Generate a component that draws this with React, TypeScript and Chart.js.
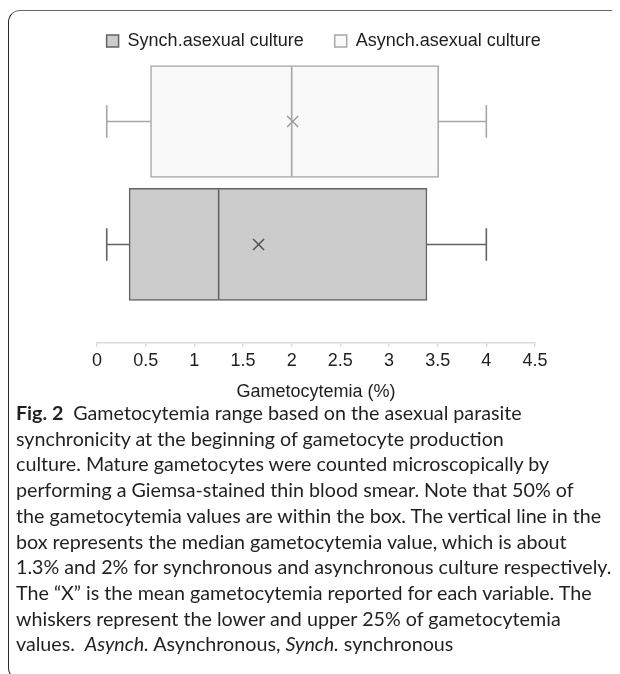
import React, { useEffect, useRef } from "react";
import { Chart, registerables } from "chart.js";

Chart.register(...registerables);

// ---- data ----
const CATEGORIES = ["Synch.asexual culture", "Asynch.asexual culture"];
const CATEGORY_POS = [1, 2];
const WHISKER_MIN = [0.1, 0.1];
const Q1 = [0.33, 0.55];
const MEDIAN = [1.25, 2.0];
const Q3 = [3.39, 3.51];
const WHISKER_MAX = [4.0, 4.0];
const MEAN = [1.66, 2.01];
const X_MIN = 0;
const X_MAX = 4.5;
const X_STEP = 0.5;
const X_TITLE = "Gametocytemia (%)";

// ---- styles ----
const FILLS = ["#cccccc", "#f9f9f9"];
const BORDERS = ["#626262", "#a6a6a6"];
const MEAN_COLORS = ["#505050", "#9a9a9a"];
const FONT = "'Liberation Sans', Arial, Helvetica, sans-serif";
const TEXT = "#1e1e1e";

const boxExtras = {
  id: "boxExtras",
  afterDatasetsDraw(chart: any) {
    const ctx = chart.ctx;
    const xs = chart.scales.x;
    CATEGORIES.forEach((_, i) => {
      const bar = chart.getDatasetMeta(i).data[0];
      if (!bar) return;
      const { y, height } = bar.getProps(["y", "height"], true);
      const h = height;
      const pMin = xs.getPixelForValue(WHISKER_MIN[i]);
      const pQ1 = xs.getPixelForValue(Q1[i]);
      const pMed = xs.getPixelForValue(MEDIAN[i]);
      const pQ3 = xs.getPixelForValue(Q3[i]);
      const pMax = xs.getPixelForValue(WHISKER_MAX[i]);
      const cap = h * 0.145;
      ctx.save();
      ctx.strokeStyle = BORDERS[i];
      ctx.lineWidth = 1.6;
      ctx.beginPath();
      ctx.moveTo(pMin, y);
      ctx.lineTo(pQ1, y);
      ctx.moveTo(pQ3, y);
      ctx.lineTo(pMax, y);
      ctx.moveTo(pMin, y - cap);
      ctx.lineTo(pMin, y + cap);
      ctx.moveTo(pMax, y - cap);
      ctx.lineTo(pMax, y + cap);
      ctx.moveTo(pMed, y - h / 2 + 1);
      ctx.lineTo(pMed, y + h / 2 - 1);
      ctx.stroke();
      ctx.restore();
    });
  },
};

export default function App() {
  const ref = useRef<HTMLCanvasElement | null>(null);

  useEffect(() => {
    document.documentElement.style.overflow = "hidden";
    if (!ref.current) return;
    Chart.defaults.font.family = FONT;
    Chart.defaults.color = TEXT;

    const barSets = CATEGORIES.map((label, i) => ({
      type: "bar" as const,
      label,
      indexAxis: "y",
      order: 2,
      data: [{ x: [Q1[i], Q3[i]], y: CATEGORY_POS[i] }],
      backgroundColor: FILLS[i],
      borderColor: BORDERS[i],
      borderWidth: 1.5,
      borderSkipped: false,
      barThickness: 112,
      grouped: false,
    }));
    const meanSets = CATEGORIES.map((label, i) => ({
      type: "scatter" as const,
      label: label + " mean",
      order: 0,
      data: [{ x: MEAN[i], y: CATEGORY_POS[i] }],
      pointStyle: "crossRot",
      pointRadius: 7.8,
      pointBorderColor: MEAN_COLORS[i],
      pointBackgroundColor: "rgba(0,0,0,0)",
      pointBorderWidth: 1.5,
      borderColor: MEAN_COLORS[i],
      backgroundColor: "rgba(0,0,0,0)",
      showLine: false,
    }));

    const chart = new Chart(ref.current, {
      type: "bar",
      data: { datasets: [...barSets, ...meanSets] as any },
      options: {
        animation: false,
        responsive: false,
        maintainAspectRatio: false,
        events: [],
        layout: { padding: { left: 17.4, right: 0, top: 0, bottom: 0 } },
        plugins: {
          tooltip: { enabled: false },
          legend: {
            display: true,
            position: "top",
            labels: {
              boxWidth: 12,
              boxHeight: 12,
              padding: 31,
              color: TEXT,
              font: { size: 18, family: FONT },
              filter: (item: any) => item.datasetIndex < CATEGORIES.length,
            },
          },
        },
        scales: {
          x: {
            type: "linear",
            min: X_MIN,
            max: X_MAX,
            offset: false,
            ticks: {
              stepSize: X_STEP,
              padding: 3,
              color: TEXT,
              font: { size: 18 },
              callback: (v: any) => String(Number(v)),
            },
            grid: {
              offset: false,
              drawOnChartArea: false,
              drawTicks: true,
              tickLength: 4,
              color: "#d9d9d9",
              lineWidth: 1.5,
            },
            border: { display: true, color: "#d9d9d9", width: 1.5 },
            title: {
              display: true,
              text: X_TITLE,
              color: TEXT,
              font: { size: 18 },
              padding: { top: 7, bottom: 0 },
            },
          },
          y: {
            type: "linear",
            min: 0.2,
            max: 2.5,
            offset: false,
            display: true,
            ticks: { display: false },
            grid: { display: false, offset: false },
            border: { display: false },
            afterFit: (s: any) => {
              s.width = 69.6;
            },
          },
          y2: {
            type: "linear",
            position: "right",
            display: true,
            ticks: { display: false },
            grid: { display: false },
            border: { display: false },
            afterFit: (s: any) => {
              s.width = 85;
            },
          },
        },
      },
      plugins: [boxExtras],
    } as any);
    return () => chart.destroy();
  }, []);

  const capStyle: React.CSSProperties = {
    position: "absolute",
    left: 8,
    top: 392,
    fontFamily: "Lato, 'Noto Sans', sans-serif",
    fontSize: 19.7,
    lineHeight: "25.7px",
    color: "#231f20",
    whiteSpace: "nowrap",
  };

  return (
    <div style={{ position: "relative", width: 612, height: 666 }}>
      <div
        style={{
          position: "absolute",
          left: 0,
          top: 2,
          width: 612,
          height: 670,
          boxSizing: "border-box",
          borderTop: "1.5px solid #6a6a6a",
          borderLeft: "1.5px solid #2a2a2a",
          borderBottom: "1.5px solid #2a2a2a",
          borderTopLeftRadius: 12,
          borderBottomLeftRadius: 12,
        }}
      />
      <div style={{ position: "absolute", left: 2, top: -7, width: 610, height: 402 }}>
        <canvas ref={ref} width={610} height={402} style={{ display: "block", width: 610, height: 402 }} />
      </div>
      <div style={capStyle}>
        <div>
          <b>Fig. 2</b>
          {"\u2002Gametocytemia range based on the asexual parasite"}
        </div>
        <div>synchronicity at the beginning of gametocyte production</div>
        <div>culture. Mature gametocytes were counted microscopically by</div>
        <div>performing a Giemsa-stained thin blood smear. Note that 50% of</div>
        <div>the gametocytemia values are within the box. The vertical line in the</div>
        <div>box represents the median gametocytemia value, which is about</div>
        <div>1.3% and 2% for synchronous and asynchronous culture respectively.</div>
        <div>The “X” is the mean gametocytemia reported for each variable. The</div>
        <div>whiskers represent the lower and upper 25% of gametocytemia</div>
        <div>
          {"values.\u2002"}
          <i>Asynch.</i>
          {" Asynchronous, "}
          <i>Synch.</i>
          {" synchronous"}
        </div>
      </div>
    </div>
  );
}
